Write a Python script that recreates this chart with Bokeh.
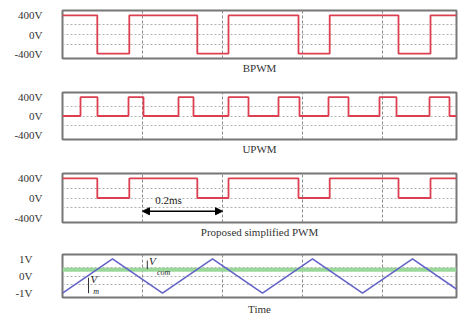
from bokeh.plotting import figure
from bokeh.layouts import column
from bokeh.models import FixedTicker, Title, Arrow, NormalHead, Label
from bokeh.embed import file_html
from bokeh.resources import INLINE

# ---- data (time in ms) ----
bpwm_t = [0, 0.087, 0.167, 0.337, 0.415, 0.590, 0.668, 0.840, 0.920, 0.985]
bpwm_v = [400, -400, 400, -400, 400, -400, 400, -400, 400, 400]

upwm_t = [0, 0.045, 0.0875, 0.165, 0.2025, 0.29, 0.3275, 0.415, 0.465, 0.54,
          0.5925, 0.665, 0.715, 0.7925, 0.835, 0.9175, 0.9675, 0.985]
upwm_v = [0, 400, 0, 400, 0, 400, 0, 400, 0, 400, 0, 400, 0, 400, 0, 400, 0, 0]

prop_t = [0, 0.087, 0.167, 0.337, 0.415, 0.590, 0.668, 0.840, 0.920, 0.985]
prop_v = [400, 0, 400, 0, 400, 0, 400, 0, 400, 400]

tri_t = [0, 0.125, 0.25, 0.375, 0.5, 0.625, 0.75, 0.875, 1.0]
tri_v = [-1, 1, -1, 1, -1, 1, -1, 1, -1]
vcom = 0.36

volt_ticks = [-400, 0, 400]
volt_labels = {-400: "-400V", 0: "0V", 400: "400V"}
mod_ticks = [-1, 0, 1]
mod_labels = {-1: "-1V", 0: "0V", 1: "1V"}
time_grid = [0.2, 0.4, 0.6, 0.8]
titles = ["BPWM", "UPWM", "Proposed simplified PWM", "Time"]

FONT = "Liberation Serif"
RED = "#dc4050"


def make_panel(height, top, bottom, yrange, yticks, ylabels, ygrid, title, standoff, tstand):
    p = figure(width=458, height=height, x_range=(0, 0.985), y_range=yrange,
               output_backend="svg", toolbar_location=None,
               min_border_left=62, min_border_right=2,
               min_border_top=top, min_border_bottom=bottom)
    p.xaxis.visible = False
    p.yaxis.ticker = FixedTicker(ticks=yticks)
    p.yaxis.major_label_overrides = ylabels
    p.yaxis.axis_line_color = None
    p.yaxis.major_tick_line_color = None
    p.yaxis.minor_tick_line_color = None
    p.yaxis.major_label_standoff = standoff
    p.yaxis.major_label_text_font = FONT
    p.yaxis.major_label_text_font_size = "11px"
    p.yaxis.major_label_text_color = "#333333"
    p.xgrid.ticker = FixedTicker(ticks=time_grid)
    p.xgrid.grid_line_color = "#8a8a8a"
    p.xgrid.grid_line_dash = "3 2"
    p.ygrid.ticker = FixedTicker(ticks=ygrid)
    p.ygrid.grid_line_color = "#b0b0b0"
    p.ygrid.grid_line_dash = "2 2"
    p.outline_line_color = "#777777"
    p.outline_line_width = 2
    p.add_layout(Title(text=title, align="center", text_font=FONT,
                       text_font_size="11px", text_font_style="normal",
                       text_color="#333333", standoff=tstand), "below")
    return p


p1 = make_panel(84, 10, 26, (-500, 500), volt_ticks, volt_labels, [-200, 0, 200], titles[0], 14, 2)
p1.step(bpwm_t, bpwm_v, mode="after", line_color=RED, line_width=1.8)

p2 = make_panel(81, 8, 26, (-500, 500), volt_ticks, volt_labels, [-200, 0, 200], titles[1], 14, 2)
p2.step(upwm_t, upwm_v, mode="after", line_color=RED, line_width=1.8)

p3 = make_panel(81, 8, 24, (-500, 500), volt_ticks, volt_labels, [-200, 0, 200], titles[2], 14, 2)
p3.step(prop_t, prop_v, mode="after", line_color=RED, line_width=1.8)
p3.add_layout(Arrow(x_start=0.2, y_start=-270, x_end=0.4, y_end=-270,
                    line_color="black", line_width=1.5,
                    start=NormalHead(size=7, fill_color="black", line_color="black"),
                    end=NormalHead(size=7, fill_color="black", line_color="black")))
p3.add_layout(Label(x=0.265, y=-40, text="0.2ms", text_font=FONT,
                    text_font_size="11px", text_align="center",
                    text_baseline="middle", text_color="#222222"))

p4 = make_panel(76, 8, 25, (-1.25, 1.25), mod_ticks, mod_labels, [-0.5, 0, 0.5], titles[3], 24, 6)
p4.line([0, 0.985], [vcom, vcom], line_color="#9ad89a", line_width=4)
p4.line(tri_t, tri_v, line_color="#6464c8", line_width=1.6)
# annotations V_com and V_m
p4.segment(x0=[0.212, 0.065], y0=[0.9, -1.0], x1=[0.212, 0.065], y1=[0.4, -0.1],
           line_color="#333333", line_width=1)
p4.add_layout(Label(x=0.216, y=0.55, text="V", text_font=FONT, text_font_size="11px",
                    text_font_style="italic", text_color="#222222"))
p4.add_layout(Label(x=0.236, y=-0.05, text="com", text_font=FONT, text_font_size="8px",
                    text_font_style="italic", text_color="#222222"))
p4.add_layout(Label(x=0.07, y=-0.55, text="V", text_font=FONT, text_font_size="11px",
                    text_font_style="italic", text_color="#222222"))
p4.add_layout(Label(x=0.077, y=-1.15, text="m", text_font=FONT, text_font_size="8px",
                    text_font_style="italic", text_color="#222222"))

layout = column(p1, p2, p3, p4, spacing=0)
open("out.html", "w").write(file_html(layout, INLINE))
